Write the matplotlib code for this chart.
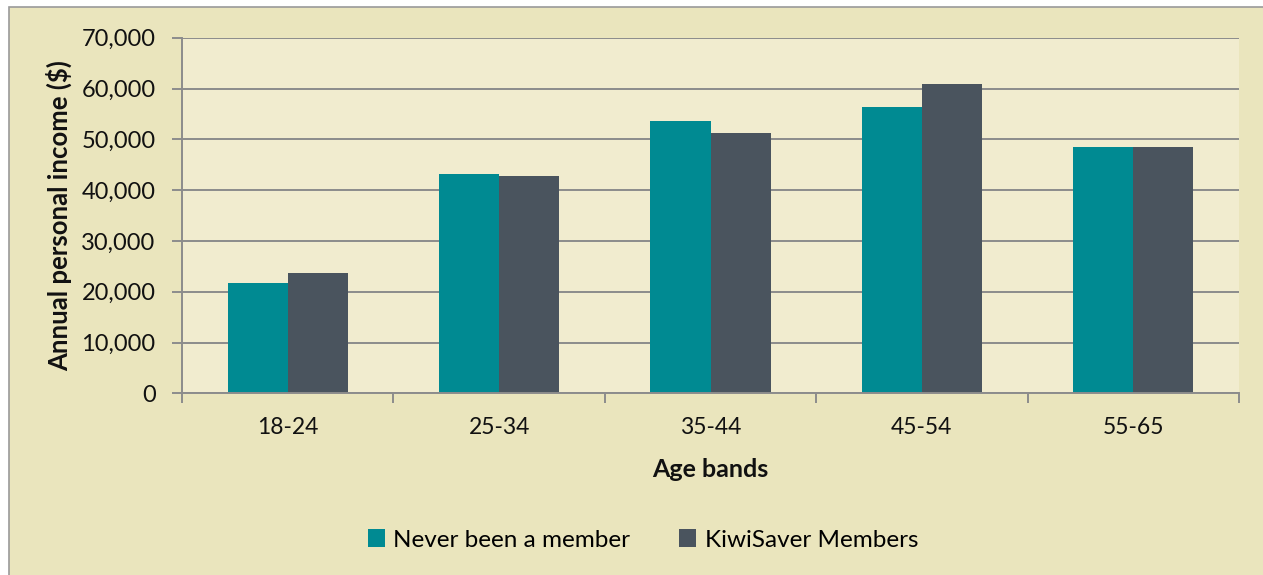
import matplotlib.pyplot as plt
from matplotlib.patches import Rectangle
from matplotlib.ticker import FuncFormatter, MultipleLocator
import numpy as np

# Income by age band
age_bands = ["18-24", "25-34", "35-44", "45-54", "55-65"]
never_member = [21800, 43100, 53600, 56400, 48400]
kiwisaver_members = [23700, 42700, 51300, 60900, 48400]

plt.rcParams['font.family'] = ['Lato', 'DejaVu Sans']

fig = plt.figure(figsize=(12.63, 5.75), dpi=100, facecolor="white")
# outer chart frame (runs off the right/bottom edge)
fig.patches.append(Rectangle((9 / 1263, -0.05), 1.1, 1 - 7 / 575 + 0.05,
                             transform=fig.transFigure, facecolor="#EAE5BD",
                             edgecolor="#9A9A9A", linewidth=1.2, zorder=-1))

ax = fig.add_axes([0.1441, 0.316, 0.8369, 0.6184])
ax.set_facecolor("#F1ECCF")

x = np.arange(len(age_bands))
w = 0.284
ax.bar(x - w / 2, never_member, w, color="#008A92", label="Never been a member", zorder=3)
ax.bar(x + w / 2, kiwisaver_members, w, color="#4A545E", label="KiwiSaver Members", zorder=3)

ax.set_xlim(-0.5, len(age_bands) - 0.5)
ax.set_ylim(0, 70000)
ax.yaxis.set_major_locator(MultipleLocator(10000))
ax.yaxis.set_major_formatter(FuncFormatter(lambda v, p: f"{int(v):,}"))
ax.grid(axis="y", color="#8C8C8C", linewidth=1.4, zorder=1)

ax.set_xticks(x)
ax.set_xticklabels(age_bands)
ax.set_xticks(np.arange(-0.5, len(age_bands)), minor=True)
ax.tick_params(axis="x", which="major", length=0, pad=17, labelsize=16.5, labelcolor="#111111")
ax.tick_params(axis="x", which="minor", length=7, width=1.4, color="#8C8C8C")
ax.tick_params(axis="y", length=7, width=1.4, color="#8C8C8C", pad=12,
               labelsize=17, labelcolor="#111111")

for side in ["top", "right"]:
    ax.spines[side].set_visible(False)
for side in ["left", "bottom"]:
    ax.spines[side].set_color("#8C8C8C")
    ax.spines[side].set_linewidth(1.4)
    ax.spines[side].set_zorder(4)

ax.set_ylabel("Annual personal income ($)", fontsize=18.5, fontweight="bold", color="#111111")
ax.yaxis.set_label_coords(-0.104, 0.5)
ax.set_xlabel("Age bands", fontsize=18, fontweight="bold", color="#111111")
ax.xaxis.set_label_coords(0.5, -0.183)

fig.legend(loc="center", bbox_to_anchor=(643 / 1263, 1 - 540 / 575), ncol=2,
           frameon=False, fontsize=17.5, handlelength=0.7, handleheight=0.7,
           handletextpad=0.35, columnspacing=2.0)

fig.savefig("out.png", dpi=100, facecolor=fig.get_facecolor())
